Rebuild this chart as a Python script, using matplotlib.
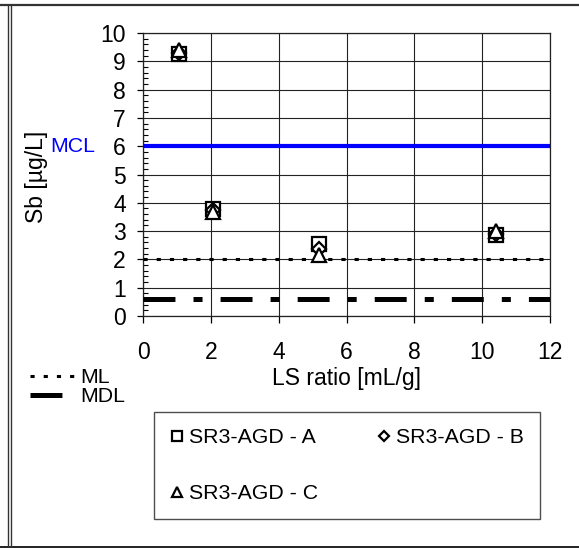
import matplotlib
matplotlib.use("Agg")
import matplotlib.pyplot as plt
from matplotlib.lines import Line2D
from matplotlib.transforms import blended_transform_factory
from matplotlib.ticker import MultipleLocator

plt.rcParams["font.family"] = ["Liberation Sans", "DejaVu Sans"]
plt.rcParams["lines.scale_dashes"] = False

# datos
ls_ratio = [1.05, 2.05, 5.2, 10.4]
sb_a = [9.25, 3.78, 2.55, 2.85]
sb_b = [9.3, 3.75, 2.35, 2.9]
sb_c = [9.4, 3.68, 2.15, 3.0]
series_labels = ["SR3-AGD - A", "SR3-AGD - B", "SR3-AGD - C"]
series_markers = ["s", "D", "^"]

mcl = 6.0
ml = 2.0
mdl = 0.6

W, H = 579, 548
fig = plt.figure(figsize=(W / 100, H / 100), dpi=100)
ax = fig.add_axes([143 / W, 1 - 316 / H, 407 / W, 283 / H])

fs = 16.5

# lineas de referencia
ax.axhline(mcl, color="#0000FF", lw=3, zorder=3)
ax.axhline(ml, color="black", lw=2.2, ls=(0, (3, 6.5)), zorder=3)
ax.axhline(mdl, color="black", lw=3.6, ls=(0, (23, 13, 6.5, 13)), zorder=3)

handles = []
for y, lab, mk in zip([sb_a, sb_b, sb_c], series_labels, series_markers):
    ms = 7 if mk == "D" else 10.5
    h, = ax.plot(ls_ratio, y, ls="none", marker=mk, ms=ms, mfc="white",
                 mec="black", mew=1.6, label=lab, zorder=4)
    handles.append(h)

ax.set_xlim(0, 12)
ax.set_ylim(0, 10)
ax.xaxis.set_major_locator(MultipleLocator(2))
ax.yaxis.set_major_locator(MultipleLocator(1))
ax.yaxis.set_minor_locator(MultipleLocator(0.2))
ax.grid(True, which="major", color="#222222", lw=0.8)
ax.set_axisbelow(True)
for s in ax.spines.values():
    s.set_color("#222222")
    s.set_linewidth(0.9)

ax.tick_params(axis="x", which="major", direction="out", length=5, width=0.9,
               pad=13, labelsize=fs)
ax.tick_params(axis="y", which="major", direction="out", length=4.5, width=0.9,
               pad=8, labelsize=fs)
ax.tick_params(axis="y", which="minor", direction="in", length=3.5, width=0.8)

ax.set_xlabel("LS ratio [mL/g]", fontsize=fs, labelpad=2)
ax.set_ylabel("Sb [µg/L]", fontsize=fs)
ax.yaxis.set_label_coords((48 - 143) / 407, 0.49)

trans = blended_transform_factory(ax.transAxes, ax.transData)
ax.text((50 - 143) / 407, mcl, "MCL", color="#0000FF", fontsize=fs * 0.93,
        va="center", ha="left", transform=trans)

# leyenda de lineas
line_handles = [
    Line2D([], [], color="black", lw=2.2, ls=(0, (3, 6.5))),
    Line2D([], [], color="black", lw=3.6, ls=(0, (23, 13, 6.5, 13))),
]
fig.legend(line_handles, ["ML", "MDL"], loc="upper left",
           bbox_to_anchor=(30 / W, 1 - 368 / H), frameon=False,
           fontsize=fs * 0.93, handlelength=2.1, handletextpad=0.25,
           labelspacing=0.02, borderpad=0, borderaxespad=0)

# leyenda de series (orden A, C, B para que A y B queden en la fila 1)
order = [0, 2, 1]
leg = fig.legend([handles[i] for i in order], [series_labels[i] for i in order],
                 loc="upper left",
                 bbox_to_anchor=(154 / W, 1 - 520 / H, 386 / W, 108 / H),
                 mode="expand", ncol=2, fontsize=fs * 0.93, frameon=True,
                 fancybox=False, edgecolor="#222222", markerscale=0.75,
                 handlelength=0.7, handletextpad=0.2, labelspacing=1.75,
                 borderpad=0.75, borderaxespad=0, columnspacing=1.0)
leg.get_frame().set_linewidth(1.0)

# marco exterior
fig.add_artist(Line2D([0, 1], [1 - 4.5 / H, 1 - 4.5 / H], color="#333333",
                      lw=1.6, transform=fig.transFigure))
fig.add_artist(Line2D([0, 1], [1 - 546.5 / H, 1 - 546.5 / H], color="#222222",
                      lw=1.4, transform=fig.transFigure))
for xp in (7.8, 11.2):
    fig.add_artist(Line2D([xp / W, xp / W], [1 - 546.5 / H, 1 - 4.5 / H],
                          color="#333333", lw=1.0, transform=fig.transFigure))

fig.savefig("out.png", dpi=100)
